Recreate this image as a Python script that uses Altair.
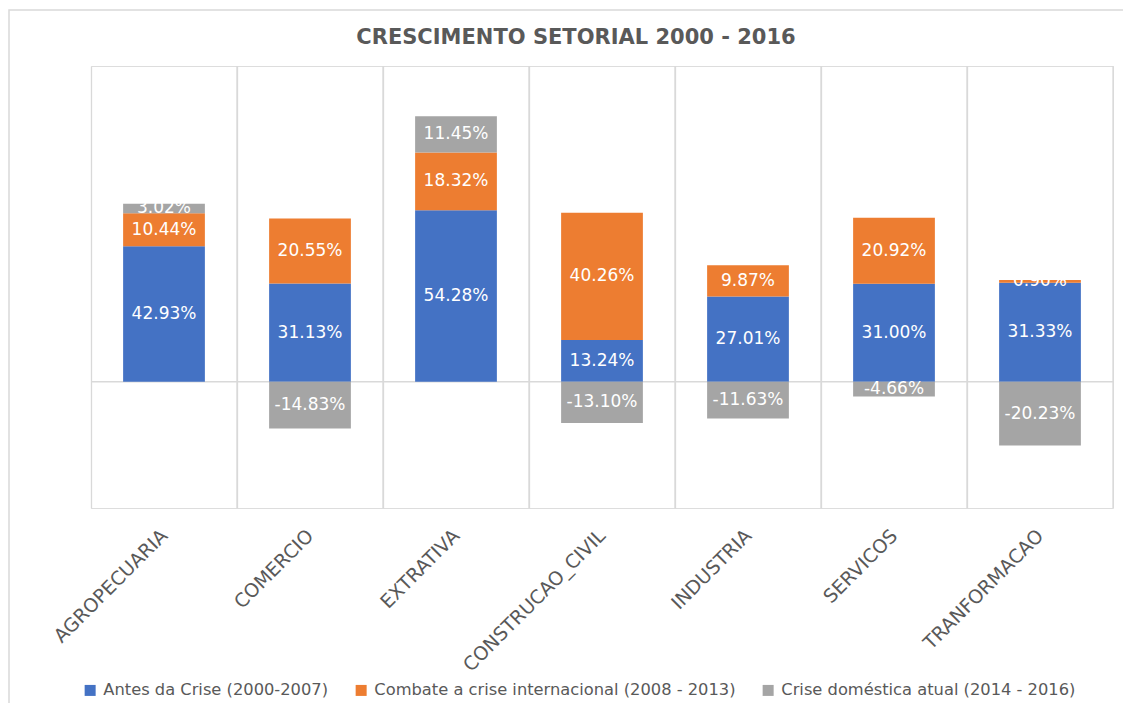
import altair as alt
import pandas as pd

categories = ["AGROPECUARIA", "COMERCIO", "EXTRATIVA", "CONSTRUCAO_CIVIL",
              "INDUSTRIA", "SERVICOS", "TRANFORMACAO"]
series = ["Antes da Crise (2000-2007)",
          "Combate a crise internacional (2008 - 2013)",
          "Crise doméstica atual (2014 - 2016)"]
antes = [42.93, 31.13, 54.28, 13.24, 27.01, 31.00, 31.33]
combate = [10.44, 20.55, 18.32, 40.26, 9.87, 20.92, 0.90]
crise = [3.02, -14.83, 11.45, -13.10, -11.63, -4.66, -20.23]
colors = ["#4472C4", "#ED7D31", "#A5A5A5"]

rows = []
for i, c in enumerate(categories):
    for k, (s, vals) in enumerate(zip(series, [antes, combate, crise])):
        rows.append({"categoria": c, "serie": s, "ordem": k, "valor": vals[i]})
df = pd.DataFrame(rows)
cat_df = pd.DataFrame({"categoria": categories})
zero_df = pd.DataFrame({"y": [0]})

W, H = 1022, 442
GRID = "#D9D9D9"
TXT = "#595959"

xscale = alt.Scale(domain=categories, paddingInner=0, paddingOuter=0)
yscale = alt.Scale(domain=[-40, 100], nice=False, zero=False)

xaxis = alt.Axis(title=None, labelAngle=-45, labelAlign="right", labelBaseline="top",
                 grid=True, bandPosition=0, gridColor=GRID, gridWidth=1.3,
                 domain=False, ticks=False, labelFont="DejaVu Sans", labelFontSize=19,
                 labelColor=TXT, labelPadding=18, labelOffset=-6, labelLimit=400)

base = alt.Chart(df)

bars = base.mark_bar(width=alt.RelativeBandSize(0.56)).encode(
    x=alt.X("categoria:N", sort=categories, scale=xscale, axis=xaxis),
    y=alt.Y("valor:Q", stack="zero", scale=yscale, axis=None),
    color=alt.Color("serie:N", scale=alt.Scale(domain=series, range=colors),
                    legend=alt.Legend(title=None, orient="none", direction="horizontal",
                                      legendX=-9, legendY=616, symbolType="square",
                                      symbolSize=121, symbolStrokeWidth=0,
                                      labelFont="DejaVu Sans", labelFontSize=16.3,
                                      labelColor=TXT, columnPadding=24, labelOffset=5,
                                      labelLimit=500)),
    order=alt.Order("ordem:Q"),
)

labels = base.transform_stack(
    stack="valor", groupby=["categoria"], as_=["v0", "v1"],
    sort=[alt.SortField("ordem", order="ascending")], offset="zero"
).transform_calculate(
    mid="(datum.v0 + datum.v1) / 2",
    rotulo="(datum.valor < 0 ? '-' : '') + format(abs(datum.valor), '.2f') + '%'"
).mark_text(color="white", font="DejaVu Sans", fontSize=17, baseline="middle").encode(
    x=alt.X("categoria:N", sort=categories, scale=xscale, axis=xaxis),
    y=alt.Y("mid:Q", scale=yscale, axis=None),
    text="rotulo:N",
)

right_edge = alt.Chart(cat_df).mark_rule(color=GRID, strokeWidth=1.3).encode(
    x=alt.X("categoria:N", sort=categories, scale=xscale, axis=xaxis, bandPosition=1),
    y=alt.value(0), y2=alt.value(H),
)

zero_line = alt.Chart(zero_df).mark_rule(color=GRID, strokeWidth=1.5).encode(
    y=alt.Y("y:Q", scale=yscale, axis=None)
)

frame = alt.Chart(zero_df).mark_rect(fill=None, stroke=GRID, strokeWidth=1.5).encode(
    x=alt.value(-82), x2=alt.value(W + 60), y=alt.value(-56), y2=alt.value(H + 300)
)

chart = alt.layer(frame, right_edge, zero_line, bars, labels).properties(
    width=W, height=H,
    title=alt.TitleParams("CRESCIMENTO SETORIAL 2000 - 2016", font="DejaVu Sans",
                          fontSize=21, fontWeight="bold", color=TXT,
                          anchor="middle", dx=-26, offset=-39, frame="group"),
    autosize=alt.AutoSizeParams(type="none"),
    padding={"left": 83, "top": 58, "right": 10, "bottom": 195},
).configure_view(stroke=None).configure(background="white")

chart.save("out.html", embed_options={"renderer": "svg", "actions": False})
